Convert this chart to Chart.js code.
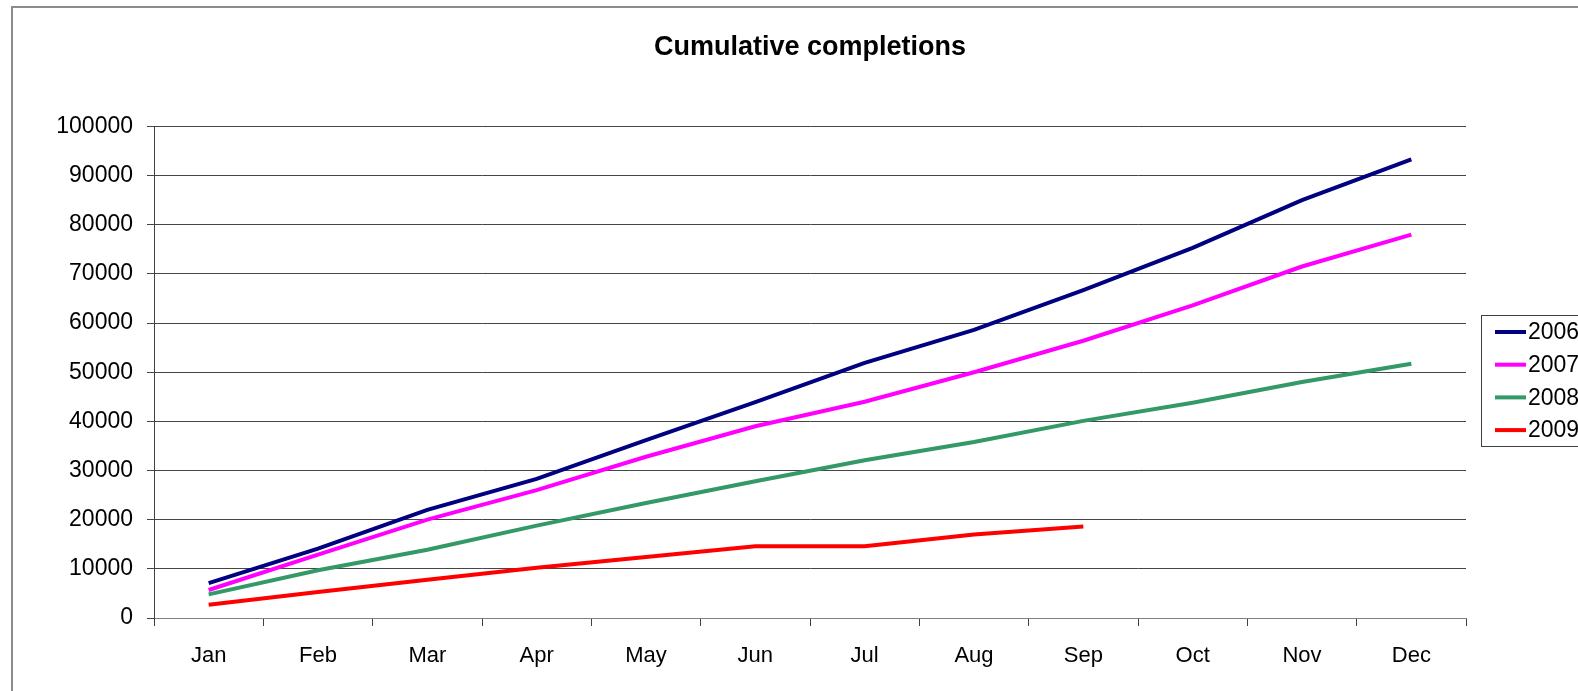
<!DOCTYPE html>
<html>
<head>
<meta charset="utf-8">
<script src="https://cdn.jsdelivr.net/npm/chart.js@4"></script>
<style>
  html, body { margin: 0; padding: 0; background: #fff; overflow: hidden; }
  #wrap { width: 1578px; height: 691px; position: relative; }
</style>
</head>
<body>
<div id="wrap"><canvas id="chart"></canvas></div>
<script>
// data
const months = ['Jan', 'Feb', 'Mar', 'Apr', 'May', 'Jun', 'Jul', 'Aug', 'Sep', 'Oct', 'Nov', 'Dec'];
const years = ['2006', '2007', '2008', '2009'];
const s2006 = [7100, 14100, 22000, 28300, 36200, 43900, 51900, 58600, 66700, 75300, 85000, 93300];
const s2007 = [5700, 12900, 20000, 26000, 32800, 39000, 44000, 50000, 56400, 63600, 71500, 78000];
const s2008 = [4800, 9700, 13900, 18800, 23400, 27800, 32100, 35800, 40100, 43800, 48000, 51700];
const s2009 = [2700, 5300, 7800, 10200, 12400, 14600, 14600, 17000, 18600];
const colors = ['#000080', '#FF00FF', '#339966', '#FF0000'];
const yTicks = [0, 10000, 20000, 30000, 40000, 50000, 60000, 70000, 80000, 90000, 100000];

const FONT = "'Liberation Sans', Arial, sans-serif";

// outer chart border (cut off on the right / bottom like the source)
const frame = {
    id: 'frame',
    beforeDraw(chart) {
        const ctx = chart.ctx;
        ctx.save();
        ctx.strokeStyle = '#8c8c8c';
        ctx.lineWidth = 2;
        ctx.strokeRect(12, 7, 1700, 800);
        ctx.restore();
    }
};

// Excel-style boxed legend on the right
const boxLegend = {
    id: 'boxLegend',
    afterDraw(chart) {
        const ctx = chart.ctx;
        ctx.save();
        ctx.strokeStyle = '#404040';
        ctx.lineWidth = 1;
        ctx.strokeRect(1481.5, 315.5, 200, 131);
        ctx.font = '23px ' + FONT;
        ctx.textBaseline = 'middle';
        ctx.fillStyle = '#000';
        chart.data.datasets.forEach((ds, i) => {
            const y = 332 + i * 32.7;
            ctx.strokeStyle = ds.borderColor;
            ctx.lineWidth = 4;
            ctx.beginPath();
            ctx.moveTo(1495, y);
            ctx.lineTo(1526, y);
            ctx.stroke();
            ctx.fillText(ds.label, 1528, y + 1);
        });
        ctx.restore();
    }
};

const series = [s2006, s2007, s2008, s2009];

new Chart(document.getElementById('chart'), {
    type: 'line',
    data: {
        labels: months,
        datasets: years.map((y, i) => ({
            label: y,
            data: series[i],
            borderColor: colors[i],
            backgroundColor: colors[i],
            borderWidth: 4,
            pointRadius: 0,
            fill: false,
            tension: 0
        }))
    },
    options: {
        responsive: true,
        maintainAspectRatio: false,
        animation: false,
        layout: { padding: { left: 0, right: 112, top: 0, bottom: 0 } },
        plugins: {
            legend: { display: false },
            tooltip: { enabled: false },
            title: {
                display: true,
                fullSize: false,
                text: 'Cumulative completions',
                color: '#000',
                font: { family: FONT, size: 27, weight: 'bold' },
                padding: { top: 31, bottom: 63 }
            }
        },
        scales: {
            x: {
                offset: true,
                afterFit(scale) { scale.height = 73; },
                grid: {
                    offset: true,
                    drawOnChartArea: false,
                    color: '#404040',
                    tickLength: 8
                },
                border: { color: '#808080', width: 1 },
                ticks: {
                    color: '#000',
                    padding: 17,
                    maxRotation: 0,
                    font: { family: FONT, size: 22 }
                }
            },
            y: {
                min: 0,
                max: 100000,
                afterFit(scale) { scale.width = 154; },
                afterBuildTicks(scale) { scale.ticks = yTicks.map(v => ({ value: v })); },
                grid: {
                    color: '#454545',
                    tickLength: 7
                },
                border: { color: '#404040', width: 1 },
                ticks: {
                    color: '#000',
                    padding: 14,
                    font: { family: FONT, size: 23 },
                    callback: v => String(v)
                }
            }
        }
    },
    plugins: [frame, boxLegend]
});
</script>
</body>
</html>
